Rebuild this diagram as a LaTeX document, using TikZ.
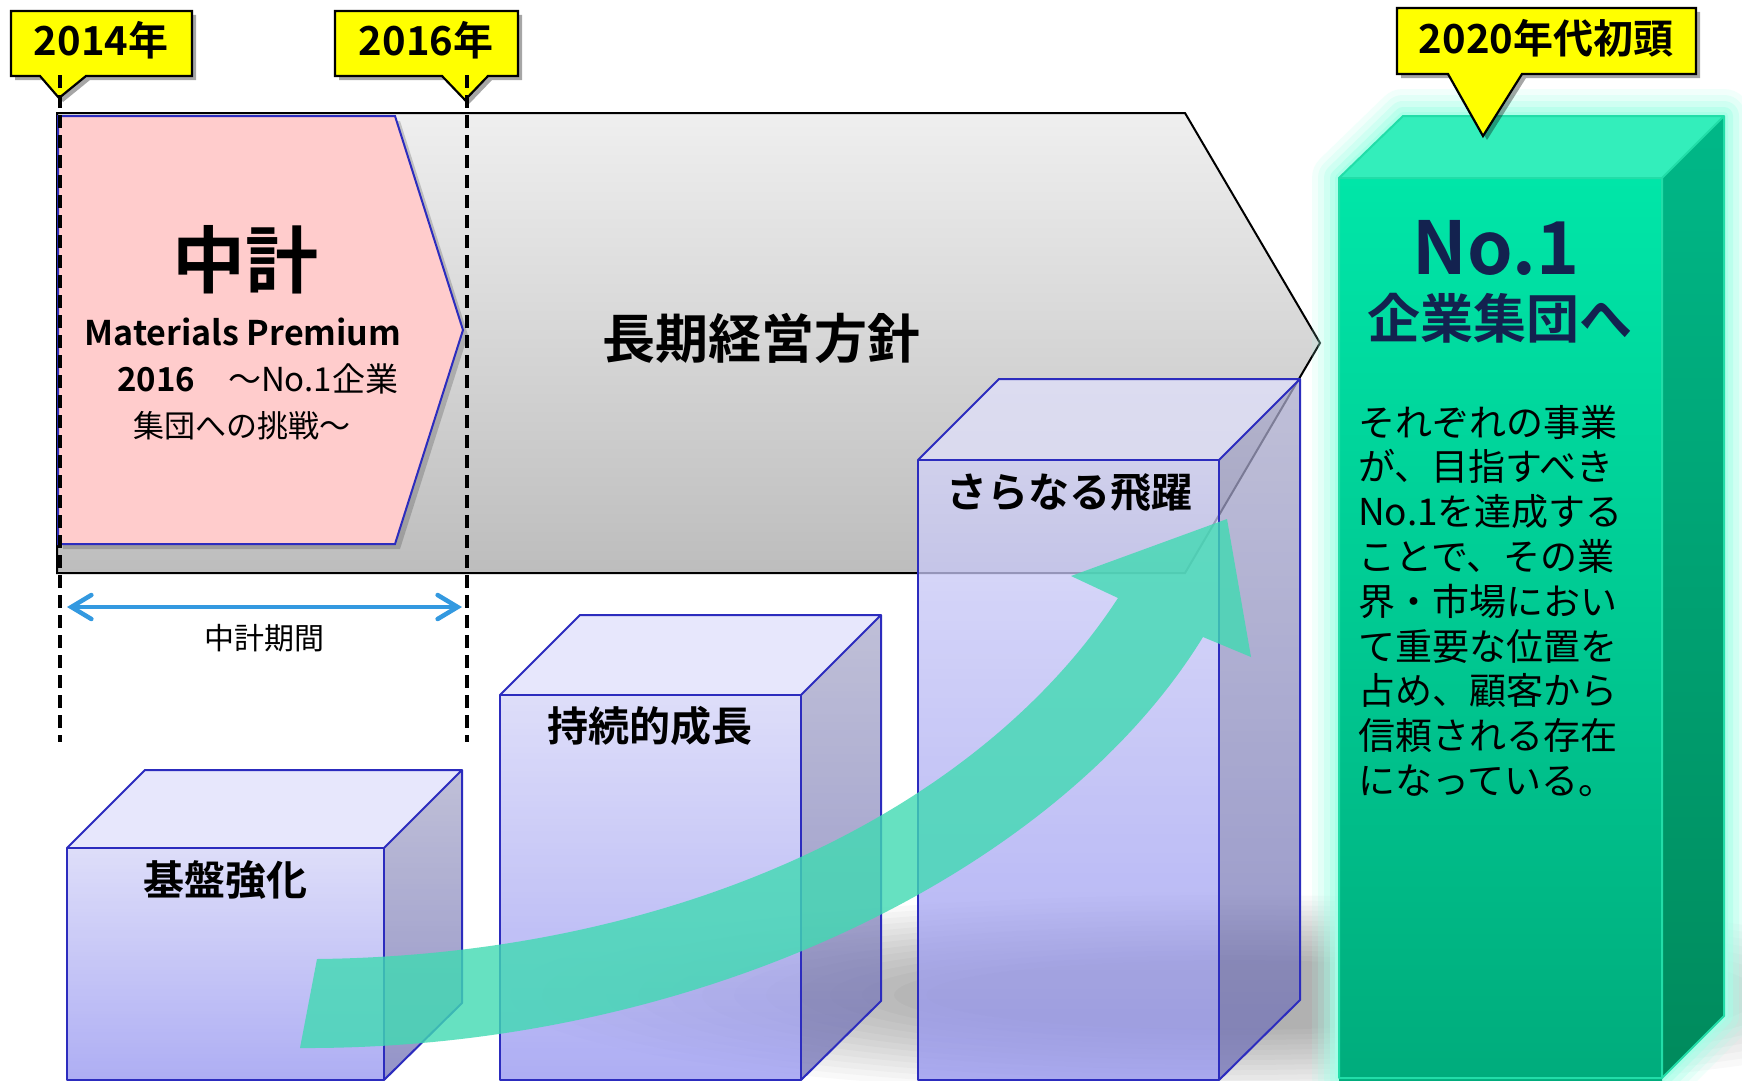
\documentclass[tikz,border=0pt]{standalone}
\usepackage{fontspec}
\setmainfont{Noto Sans CJK JP}[BoldFont={* Bold}]
\usetikzlibrary{arrows.meta}
\definecolor{cyellow}{HTML}{FFFF00}
\definecolor{bline}{HTML}{2C2CBE}
\definecolor{pinkfill}{HTML}{FFCCCC}
\definecolor{graytop}{HTML}{EFEFEF}
\definecolor{graybot}{HTML}{BDBDBD}
\definecolor{arrowblue}{HTML}{3399E0}
\definecolor{barFtop}{RGB}{211,211,248}
\definecolor{barFbot}{RGB}{147,147,240}
\definecolor{barTop}{RGB}{224,224,251}
\definecolor{barStop}{RGB}{171,171,203}
\definecolor{barSbot}{RGB}{112,112,182}
\definecolor{tealarrow}{HTML}{40DAB2}
\definecolor{gFtop}{HTML}{00E6A8}
\definecolor{gFbot}{HTML}{00AC7C}
\definecolor{gTop}{HTML}{33EEBB}
\definecolor{gStop}{HTML}{00B888}
\definecolor{gSbot}{HTML}{008A5C}
\definecolor{gEdge}{HTML}{22DDA8}
\definecolor{glowc}{HTML}{A6FFE8}
\definecolor{navy}{HTML}{13224F}
\begin{document}
\begin{tikzpicture}[x=1pt,y=-1pt,
  calloutbox/.style={fill=cyellow,draw=black,line width=2.2,line join=miter},
  callshadow/.style={fill=black,opacity=0.35},
  calltext/.style={font=\bfseries\fontsize{40}{44}\selectfont,inner sep=0},
  dashline/.style={line width=4,dash pattern=on 13 off 7},
  bartext/.style={font=\bfseries\fontsize{41}{44}\selectfont,inner sep=0},
  bodytext/.style={font=\fontsize{37}{40}\selectfont,inner sep=0,anchor=base west},
  pinktext/.style={inner sep=0,anchor=base},
  baredge/.style={draw=bline,line width=2,line join=round}]
\useasboundingbox (0,0) rectangle (1742,1081);
\fill[white] (0,0) rectangle (1742,1081);
% floor shadow
\foreach \i in {0,...,13}{\fill[black,opacity=0.022] (1230,995) ellipse ({720-\i*32} and {100-\i*5});}
% long-term arrow
\shade[top color=graytop,bottom color=graybot,draw=black,line width=2,line join=miter]
  (57,113) -- (1185,113) -- (1320,343) -- (1185,573) -- (57,573) -- cycle;
\node[font=\bfseries\fontsize{53}{58}\selectfont,inner sep=0] (ltp) at (761,338) {長期経営方針};
% pink chevron
\fill[black,opacity=0.18,shift={(5,5)}] (58,116) -- (395,116) -- (463,330) -- (395,544) -- (58,544) -- cycle;
\draw[fill=pinkfill,draw=bline,line width=2,line join=miter] (58,116) -- (395,116) -- (463,330) -- (395,544) -- (58,544) -- cycle;
\node[font=\bfseries\fontsize{73}{76}\selectfont,inner sep=0] (chk) at (245,260) {中計};
\node[pinktext,font=\bfseries\fontsize{34}{36}\selectfont] (mp) at (243,345) {Materials Premium};
\node[pinktext,anchor=base west,font=\fontsize{33}{36}\selectfont] (mp2) at (117,391) {{\bfseries 2016}　～No.1企業};
\node[pinktext,font=\fontsize{31}{36}\selectfont] (mp3) at (242,437) {集団への挑戦～};
% period arrow
\coordinate (pa) at (67,607);
\coordinate (pb) at (462,607);
\draw[arrowblue,line width=4.5,{Straight Barb[length=20pt,width=24pt,line cap=round]}-{Straight Barb[length=20pt,width=24pt,line cap=round]}] (pa) -- (pb);
\node[font=\fontsize{30}{34}\selectfont,inner sep=0] (pl) at (264,638) {中計期間};
% bars
\foreach \l/\r/\t/\d in {67/384/848/78, 500/801/695/80, 918/1219/460/81}{
  \shade[top color=barFtop,bottom color=barFbot,fill opacity=0.75] (\l,\t) rectangle (\r,1081);
  \fill[barTop,fill opacity=0.75] (\l,\t) -- ({\l+\d},{\t-\d}) -- ({\r+\d},{\t-\d}) -- (\r,\t) -- cycle;
  \shade[top color=barStop,bottom color=barSbot,fill opacity=0.75] (\r,\t) -- ({\r+\d},{\t-\d}) -- ({\r+\d},{1081-\d}) -- (\r,1081) -- cycle;
  \draw[baredge] (\l,1080) -- (\l,\t) -- (\r,\t) -- (\r,1080) -- cycle;
  \draw[baredge] (\l,\t) -- ({\l+\d},{\t-\d}) -- ({\r+\d},{\t-\d}) -- (\r,\t);
  \draw[baredge] ({\r+\d},{\t-\d}) -- ({\r+\d},{1081-\d}) -- (\r,1080);
}
\node[bartext] (b1) at (225,880) {基盤強化};
\node[bartext] (b2) at (650,726) {持続的成長};
\node[bartext] (b3) at (1069,493) {さらなる飛躍};
% growth arrow
\fill[tealarrow,opacity=0.8] (317,959) .. controls (680,955) and (980,810) .. (1118,598)
  -- (1071,576) -- (1227,519) -- (1251,657) -- (1203,637)
  .. controls (1060,870) and (700,1050) .. (300,1048) -- cycle;
% green box glow
\foreach \w/\o in {54/0.15,42/0.2,30/0.3,18/0.5,8/0.8}{
  \draw[glowc,line width=\w,opacity=\o,line join=round] (1339,178) -- (1403,116) -- (1724,116) -- (1724,1016) -- (1662,1078) -- (1339,1078) -- cycle;}
\shade[top color=gFtop,bottom color=gFbot] (1339,178) rectangle (1662,1081);
\fill[gTop] (1339,178) -- (1403,116) -- (1724,116) -- (1662,178) -- cycle;
\shade[top color=gStop,bottom color=gSbot] (1662,178) -- (1724,116) -- (1724,1016) -- (1662,1078) -- cycle;
\draw[gEdge,line width=2,line join=round] (1339,1078) -- (1339,178) -- (1403,116) -- (1724,116) -- (1724,1016) -- (1662,1078) -- cycle;
\draw[gEdge,line width=2] (1339,178) -- (1662,178) -- (1724,116) (1662,178) -- (1662,1078);
\node[font=\bfseries\fontsize{73}{80}\selectfont,text=navy,inner sep=0] (no1) at (1496,248) {No.1};
\node[font=\bfseries\fontsize{53}{58}\selectfont,text=navy,inner sep=0] (kg) at (1500,318) {企業集団へ};
\foreach \s [count=\i] in {それぞれの事業,が、目指すべき,No.1を達成する,ことで、その業,界・市場におい,て重要な位置を,占め、顧客から,信頼される存在,になっている。}
  {\node[bodytext] (body\i) at (1358,{436+44.8*(\i-1)}) {\s};}
% callouts
\fill[callshadow,shift={(4,4)}] (11,11) -- (192,11) -- (192,76) -- (86,76) -- (59,98) -- (40,76) -- (11,76) -- cycle;
\draw[calloutbox] (11,11) -- (192,11) -- (192,76) -- (86,76) -- (59,98) -- (40,76) -- (11,76) -- cycle;
\node[calltext] (c1) at (101,40) {2014年};
\fill[callshadow,shift={(4,4)}] (335,11) -- (518,11) -- (518,76) -- (488,76) -- (465,100) -- (442,76) -- (335,76) -- cycle;
\draw[calloutbox] (335,11) -- (518,11) -- (518,76) -- (488,76) -- (465,100) -- (442,76) -- (335,76) -- cycle;
\node[calltext] (c2) at (426,40) {2016年};
\fill[callshadow,shift={(4,4)}] (1397,8) -- (1696,8) -- (1696,74) -- (1522,74) -- (1483,136) -- (1448,74) -- (1397,74) -- cycle;
\draw[calloutbox] (1397,8) -- (1696,8) -- (1696,74) -- (1522,74) -- (1483,136) -- (1448,74) -- (1397,74) -- cycle;
\node[calltext] (c3) at (1546,38) {2020年代初頭};
% dashed period lines
\coordinate (d1a) at (60,75);
\coordinate (d1b) at (60,742);
\coordinate (d2a) at (467,75);
\coordinate (d2b) at (467,742);
\draw[dashline] (d1a) -- (d1b);
\draw[dashline] (d2a) -- (d2b);
\end{tikzpicture}
\end{document}
